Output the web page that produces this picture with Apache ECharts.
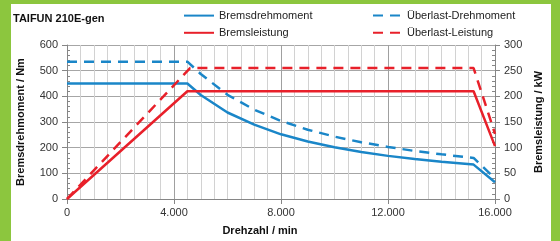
<!DOCTYPE html>
<html>
<head>
<meta charset="utf-8">
<script src="https://cdn.jsdelivr.net/npm/echarts@6/dist/echarts.min.js"></script>
<style>
  html, body { margin: 0; padding: 0; background: #fff; }
  #chart { width: 560px; height: 241px; }
</style>
</head>
<body>
<div id="chart"></div>
<script>
// Drehzahl (rpm) und Werte
const torqueRpm = [0, 4500, 5000, 6000, 7000, 8000, 9000, 10000, 11000, 12000, 13000, 14000, 15200, 16000]
const torqueNm = [450, 450, 405, 337, 290, 252, 224, 202, 183, 168, 156, 145, 134, 65]

const overTorqueRpm = [0, 4500, 5000, 6000, 7000, 8000, 9000, 10000, 11000, 12000, 13000, 14000, 15200, 16000]
const overTorqueNm = [535, 535, 487, 406, 348, 304, 270, 243, 221, 203, 187, 174, 160, 80]

const powerRpm = [0, 4500, 15200, 16000]
const powerKw = [0, 210, 210, 103]

const overPowerRpm = [0, 4600, 15200, 16000]
const overPowerKw = [0, 255, 255, 127]

const BLUE = '#1a86c8'
const RED = '#e8202a'
const GREEN = '#8cc63e'
const FONT = 'Liberation Sans'

function zip(xs, ys) {
  return xs.map((x, i) => [x, ys[i]])
}

function fmtThousand(v) {
  if (v === 0) return '0'
  return (v / 1000).toFixed(3)
}

const chart = echarts.init(document.getElementById('chart'))

const axisLineStyle = { color: '#868686', width: 1 }

const legendBase = {
  orient: 'vertical',
  top: 10,
  padding: 0,
  itemWidth: 30,
  itemHeight: 14,
  itemGap: 6,
  itemStyle: { opacity: 0 },
  textStyle: { fontSize: 11, color: '#222', fontFamily: FONT }
}

chart.setOption({
  backgroundColor: '#fff',
  animation: false,
  textStyle: { fontFamily: FONT },
  title: {
    text: 'TAIFUN 210E-gen',
    left: 13,
    top: 13,
    padding: 0,
    textStyle: { fontSize: 11, fontWeight: 'bold', color: '#111', fontFamily: FONT }
  },
  graphic: [
    { type: 'rect', shape: { x: 0, y: 0, width: 11, height: 241 }, style: { fill: GREEN } },
    { type: 'rect', shape: { x: 0, y: 0, width: 560, height: 4 }, style: { fill: GREEN } },
    { type: 'rect', shape: { x: 551, y: 0, width: 9, height: 241 }, style: { fill: GREEN } }
  ],
  legend: [
    Object.assign({}, legendBase, { left: 183, data: ['Bremsdrehmoment', 'Bremsleistung'] }),
    Object.assign({}, legendBase, { left: 372, itemWidth: 29, data: ['Überlast-Drehmoment', 'Überlast-Leistung'] })
  ],
  grid: {
    left: 67,
    right: 65,
    top: 45,
    bottom: 41
  },
  xAxis: {
    type: 'value',
    min: 0,
    max: 16000,
    interval: 4000,
    name: 'Drehzahl / min',
    nameLocation: 'middle',
    nameGap: 26,
    nameTextStyle: { fontSize: 11, fontWeight: 'bold', color: '#111', padding: [0, 42, 0, 0] },
    axisLine: { lineStyle: axisLineStyle },
    axisTick: { show: true, length: 5, lineStyle: axisLineStyle },
    axisLabel: {
      margin: 8,
      fontSize: 11,
      color: '#333',
      formatter: fmtThousand
    },
    splitLine: { show: true, lineStyle: { color: '#a0a0a0', width: 1 } },
    minorTick: { show: false, splitNumber: 8 },
    minorSplitLine: { show: true, lineStyle: { color: '#d2d2d2', width: 1 } }
  },
  yAxis: [
    {
      type: 'value',
      position: 'left',
      min: 0,
      max: 600,
      interval: 100,
      name: 'Bremsdrehmoment / Nm',
      nameLocation: 'middle',
      nameRotate: 90,
      nameGap: 41,
      nameTextStyle: { fontSize: 11, fontWeight: 'bold', color: '#111' },
      axisLine: { show: true, lineStyle: axisLineStyle },
      axisTick: { show: true, length: 5, lineStyle: axisLineStyle },
      axisLabel: { margin: 9, fontSize: 11, color: '#333' },
      splitLine: { show: true, lineStyle: { color: '#a6a6a6', width: 1 } }
    },
    {
      type: 'value',
      position: 'right',
      min: 0,
      max: 300,
      interval: 50,
      name: 'Bremsleistung / kW',
      nameLocation: 'middle',
      nameRotate: 90,
      nameGap: 29,
      nameTextStyle: { fontSize: 11, fontWeight: 'bold', color: '#111' },
      axisLine: { show: true, lineStyle: axisLineStyle },
      axisTick: { show: true, length: 5, lineStyle: axisLineStyle },
      axisLabel: { margin: 9, fontSize: 11, color: '#333' },
      splitLine: { show: false }
    },
    // Hilfsachsen nur fuer die kleinen Teilstriche nach innen
    {
      type: 'value',
      position: 'left',
      min: 0,
      max: 600,
      interval: 100,
      axisLine: { show: false },
      axisTick: { show: false, inside: true },
      axisLabel: { show: false },
      splitLine: { show: false },
      minorTick: { show: true, splitNumber: 5, length: 3, lineStyle: { color: '#868686' } }
    },
    {
      type: 'value',
      position: 'right',
      min: 0,
      max: 300,
      interval: 50,
      axisLine: { show: false },
      axisTick: { show: false, inside: true },
      axisLabel: { show: false },
      splitLine: { show: false },
      minorTick: { show: true, splitNumber: 5, length: 3, lineStyle: { color: '#868686' } }
    }
  ],
  series: [
    {
      name: 'Bremsdrehmoment',
      type: 'line',
      yAxisIndex: 0,
      data: zip(torqueRpm, torqueNm),
      symbol: 'none',
      color: BLUE,
      lineStyle: { color: BLUE, width: 2.5 }
    },
    {
      name: 'Bremsleistung',
      type: 'line',
      yAxisIndex: 1,
      data: zip(powerRpm, powerKw),
      symbol: 'none',
      color: RED,
      lineStyle: { color: RED, width: 2.5 }
    },
    {
      name: 'Überlast-Drehmoment',
      type: 'line',
      yAxisIndex: 0,
      data: zip(overTorqueRpm, overTorqueNm),
      symbol: 'none',
      color: BLUE,
      lineStyle: { color: BLUE, width: 2.5, type: [10, 7] }
    },
    {
      name: 'Überlast-Leistung',
      type: 'line',
      yAxisIndex: 1,
      data: zip(overPowerRpm, overPowerKw),
      symbol: 'none',
      color: RED,
      lineStyle: { color: RED, width: 2.5, type: [10, 7] }
    }
  ]
})
</script>
</body>
</html>
